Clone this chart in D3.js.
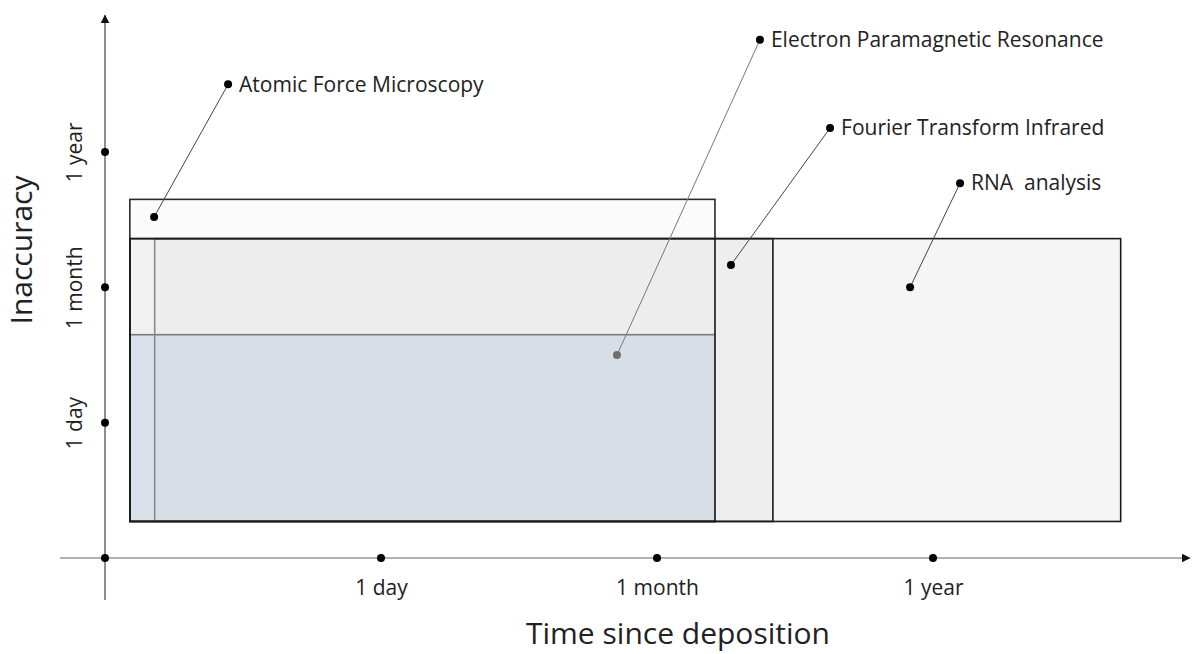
<!DOCTYPE html>
<html>
<head>
<meta charset="utf-8">
<script src="https://cdn.jsdelivr.net/npm/d3@7"></script>
<style>
body { margin: 0; background: #fff; }
text { font-family: "Open Sans", sans-serif; fill: #222; }
</style>
</head>
<body>
<div id="chart"></div>
<script>

// tick labels, same for both axes (log-ish steps)
var tickVals = [1, 2, 3]
var tickLabels = ["1 day", "1 month", "1 year"]

// rectangles: time range (x0,x1) and inaccuracy range (y0,y1), in tick units
var rectNames = ["RNA analysis", "Fourier Transform Infrared", "Atomic Force Microscopy", "EPR (low)", "EPR (high)"]
var rectX0 = [0.09, 0.09, 0.09, 0.09, 0.18]
var rectX1 = [3.68, 2.42, 2.21, 2.21, 2.21]
var rectY0 = [0.27, 0.27, 0.27, 0.27, 0.27]
var rectY1 = [2.36, 2.36, 2.65, 1.65, 2.36]
var rectFill = ["#f5f5f5", "#eeeeee", "rgba(245,245,245,0.4)", "#dbe1ea", "rgba(190,190,190,0.08)"]
var rectStroke = ["#1a1a1a", "#1a1a1a", "#2a2a2a", "#7a7a7a", "#8a8a8a"]

// callouts: point inside the box and point next to the label
var labels = ["Atomic Force Microscopy", "Electron Paramagnetic Resonance", "Fourier Transform Infrared", "RNA  analysis"]
var labelFromX = [0.178, 1.855, 2.268, 2.917]
var labelFromY = [2.52, 1.50, 2.165, 2.0]
var labelToX = [0.446, 2.373, 2.627, 3.098]
var labelToY = [3.50, 3.83, 3.177, 2.77]
var labelDotColor = ["#000", "#6e6e6e", "#000", "#000"]

var width = 1195, height = 654

var svg = d3.select("#chart")
  .append("svg")
  .attr("width", width)
  .attr("height", height)

// scales
var x = d3.scaleLinear()
  .domain([0, 3])
  .range([105, 933])
var y = d3.scaleLinear()
  .domain([0, 3])
  .range([558, 152])

// arrow head
svg.append("defs").append("marker")
  .attr("id", "arrow")
  .attr("viewBox", "0 0 10 10")
  .attr("refX", 9)
  .attr("refY", 5)
  .attr("markerWidth", 9)
  .attr("markerHeight", 9)
  .attr("markerUnits", "userSpaceOnUse")
  .attr("orient", "auto")
  .append("path")
  .attr("d", "M0,0 L10,5 L0,10 Z")
  .attr("fill", "#111")

// boxes: fills first
svg.selectAll(".box")
  .data(rectNames)
  .enter()
  .append("rect")
  .attr("class", "box")
  .attr("x", function(d, i) { return x(rectX0[i]) })
  .attr("y", function(d, i) { return y(rectY1[i]) })
  .attr("width", function(d, i) { return x(rectX1[i]) - x(rectX0[i]) })
  .attr("height", function(d, i) { return y(rectY0[i]) - y(rectY1[i]) })
  .attr("fill", function(d, i) { return rectFill[i] })
  .attr("stroke", "none")

// then outlines, the grey ones under the dark ones
var order = [3, 4, 2, 1, 0]
svg.selectAll(".outline")
  .data(order)
  .enter()
  .append("rect")
  .attr("class", "outline")
  .attr("x", function(i) { return x(rectX0[i]) })
  .attr("y", function(i) { return y(rectY1[i]) })
  .attr("width", function(i) { return x(rectX1[i]) - x(rectX0[i]) })
  .attr("height", function(i) { return y(rectY0[i]) - y(rectY1[i]) })
  .attr("fill", "none")
  .attr("stroke", function(i) { return rectStroke[i] })
  .attr("stroke-width", 1.6)

// x axis line
svg.append("line")
  .attr("x1", x(-0.163)).attr("x2", x(3.93))
  .attr("y1", y(0)).attr("y2", y(0))
  .attr("stroke", "#999")
  .attr("stroke-width", 1.5)
  .attr("marker-end", "url(#arrow)")

// y axis line
svg.append("line")
  .attr("x1", x(0)).attr("x2", x(0))
  .attr("y1", y(-0.31)).attr("y2", y(4.01))
  .attr("stroke", "#444")
  .attr("stroke-width", 1.2)
  .attr("marker-end", "url(#arrow)")

// tick dots
svg.selectAll(".xdot")
  .data([0].concat(tickVals))
  .enter()
  .append("circle")
  .attr("cx", function(d) { return x(d) })
  .attr("cy", y(0))
  .attr("r", 4)
  .attr("fill", "#000")
svg.selectAll(".ydot")
  .data(tickVals)
  .enter()
  .append("circle")
  .attr("cx", x(0))
  .attr("cy", function(d) { return y(d) })
  .attr("r", 4)
  .attr("fill", "#000")

// x tick labels
var xAxis = svg.append("g")
  .attr("transform", "translate(0," + y(0) + ")")
  .call(d3.axisBottom(x).tickValues(tickVals).tickSize(0).tickPadding(22)
    .tickFormat(function(d, i) { return tickLabels[i] }))
xAxis.select(".domain").remove()
xAxis.selectAll("text")
  .style("font-family", "'Open Sans', sans-serif")
  .style("font-size", "21px")
  .attr("fill", "#222")

// y tick labels, rotated
var yAxis = svg.append("g")
  .attr("transform", "translate(" + x(0) + ",0)")
  .call(d3.axisLeft(y).tickValues(tickVals).tickSize(0).tickPadding(0)
    .tickFormat(function(d, i) { return tickLabels[i] }))
yAxis.select(".domain").remove()
yAxis.selectAll("text")
  .attr("x", 0).attr("y", 0).attr("dy", "0.35em")
  .attr("text-anchor", "middle")
  .attr("transform", "translate(-30,0) rotate(-90)")
  .style("font-family", "'Open Sans', sans-serif")
  .style("font-size", "21px")
  .attr("fill", "#222")

// axis titles
svg.append("text")
  .attr("x", 678)
  .attr("y", 644)
  .attr("text-anchor", "middle")
  .style("font-size", "30px")
  .text("Time since deposition")
svg.append("text")
  .attr("transform", "translate(32,250) rotate(-90)")
  .attr("text-anchor", "middle")
  .style("font-size", "30px")
  .text("Inaccuracy")

// callouts
svg.selectAll(".lead")
  .data(labels)
  .enter()
  .append("line")
  .attr("x1", function(d, i) { return x(labelFromX[i]) })
  .attr("y1", function(d, i) { return y(labelFromY[i]) })
  .attr("x2", function(d, i) { return x(labelToX[i]) })
  .attr("y2", function(d, i) { return y(labelToY[i]) })
  .attr("stroke", function(d, i) { return i == 1 ? "#777" : "#444" })
  .attr("stroke-width", 1)
svg.selectAll(".fromdot")
  .data(labels)
  .enter()
  .append("circle")
  .attr("cx", function(d, i) { return x(labelFromX[i]) })
  .attr("cy", function(d, i) { return y(labelFromY[i]) })
  .attr("r", 4)
  .attr("fill", function(d, i) { return labelDotColor[i] })
svg.selectAll(".todot")
  .data(labels)
  .enter()
  .append("circle")
  .attr("cx", function(d, i) { return x(labelToX[i]) })
  .attr("cy", function(d, i) { return y(labelToY[i]) })
  .attr("r", 4)
  .attr("fill", "#000")
svg.selectAll(".lab")
  .data(labels)
  .enter()
  .append("text")
  .attr("x", function(d, i) { return x(labelToX[i]) + 11 })
  .attr("y", function(d, i) { return y(labelToY[i]) })
  .attr("dy", "0.35em")
  .style("font-size", "21px")
  .style("white-space", "pre")
  .text(function(d) { return d })

</script>
</body>
</html>
